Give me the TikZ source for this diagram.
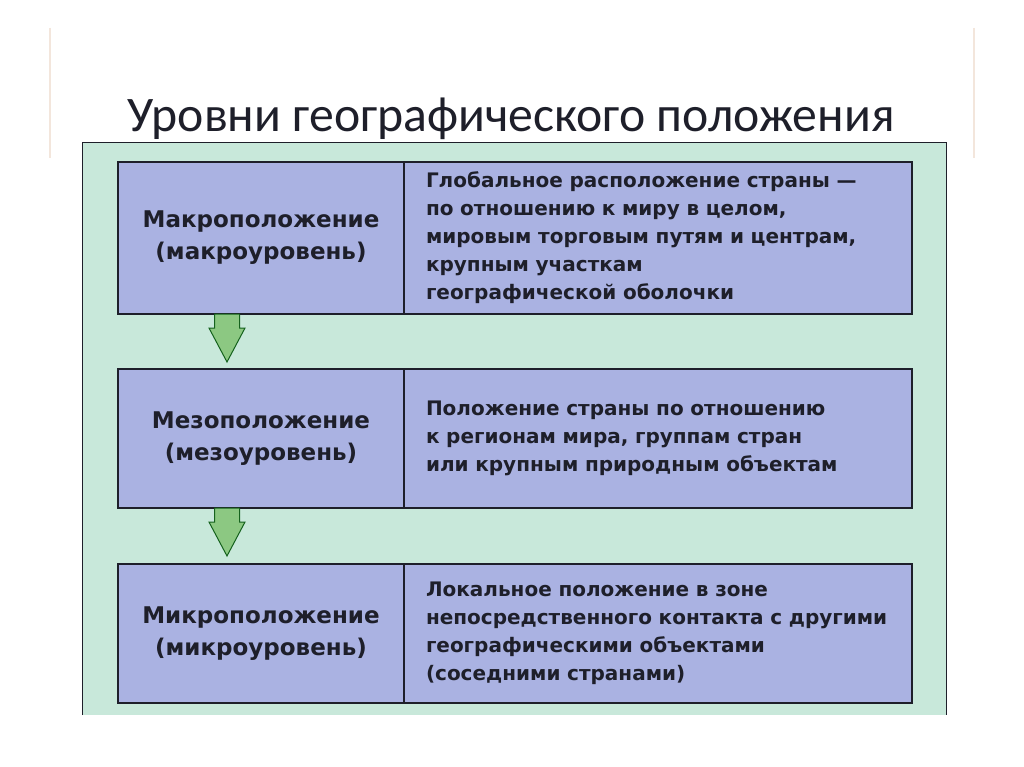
\documentclass[tikz,border=0pt]{standalone}
\usepackage{fontspec}
\setmainfont{DejaVu Sans}
\newfontfamily\titlefont{Carlito}
\usetikzlibrary{positioning}
\definecolor{panelgreen}{HTML}{C8E8DA}
\definecolor{boxblue}{HTML}{AAB2E2}
\definecolor{arrowgreen}{HTML}{8CC882}
\definecolor{inkdark}{HTML}{1E1F2A}
\definecolor{decoline}{HTML}{F3E6DC}
\tikzset{
  levelbox/.style={draw=inkdark,fill=boxblue,line width=1.3pt,rectangle,outer sep=0pt,
    minimum width=286pt,align=center,text=inkdark,
    font=\bfseries\fontsize{23}{32}\selectfont},
  descbox/.style={draw=inkdark,fill=boxblue,line width=1.3pt,rectangle,outer sep=0pt,
    minimum width=508pt,inner xsep=22pt,text width=464pt,align=left,text=inkdark,
    font=\bfseries\fontsize{20}{28}\selectfont},
  downarrow/.style={draw=inkdark!70!green,fill=arrowgreen,line width=1pt,line join=miter}
}

\begin{document}
\begin{tikzpicture}[x=1pt,y=-1pt]
\fill[white] (0,0) rectangle (1024,767);
\useasboundingbox (0,0) rectangle (1024,767);

% slide decoration
\draw[decoline,line width=1.5pt] (50,28) -- (50,158);
\draw[decoline,line width=1.5pt] (974,28) -- (974,158);

\node[anchor=base,text=inkdark,font=\titlefont\fontsize{49.7}{58}\selectfont] (title) at (511,132)
  {Уровни географического положения};

% panel
\fill[panelgreen] (82,143) rectangle (946,715);
\draw[inkdark,line width=1pt] (82,715) |- (946,143) -- (946,715);

\node[levelbox,minimum height=152pt,anchor=north west] (macro) at (118,162)
  {Макроположение\\(макроуровень)};
\node[descbox,minimum height=152pt,right=0pt of macro] (macrodesc)
  {Глобальное расположение страны —\\по отношению к миру в целом,\\мировым торговым путям и центрам,\\крупным участкам\\географической оболочки};

\node[levelbox,minimum height=139pt,below=55pt of macro] (meso)
  {Мезоположение\\(мезоуровень)};
\node[descbox,minimum height=139pt,right=0pt of meso] (mesodesc)
  {Положение страны по отношению\\к регионам мира, группам стран\\или крупным природным объектам};

\node[levelbox,minimum height=139pt,below=56pt of meso] (micro)
  {Микроположение\\(микроуровень)};
\node[descbox,minimum height=139pt,right=0pt of micro] (microdesc)
  {Локальное положение в зоне\\непосредственного контакта с другими\\географическими объектами\\(соседними странами)};

% arrows between levels
\coordinate (a1) at ([xshift=109pt]macro.south west);
\coordinate (a2) at ([xshift=109pt]meso.south west);
\foreach \a in {a1,a2}
  \draw[downarrow] ([xshift=-12.5pt]\a) -- ++(0,14) -- ++(-5.5,0) -- ([yshift=-48pt]\a)
    -- ++(18,-34) -- ++(-5.5,0) -- ++(0,-14) -- cycle;

\end{tikzpicture}
\end{document}
